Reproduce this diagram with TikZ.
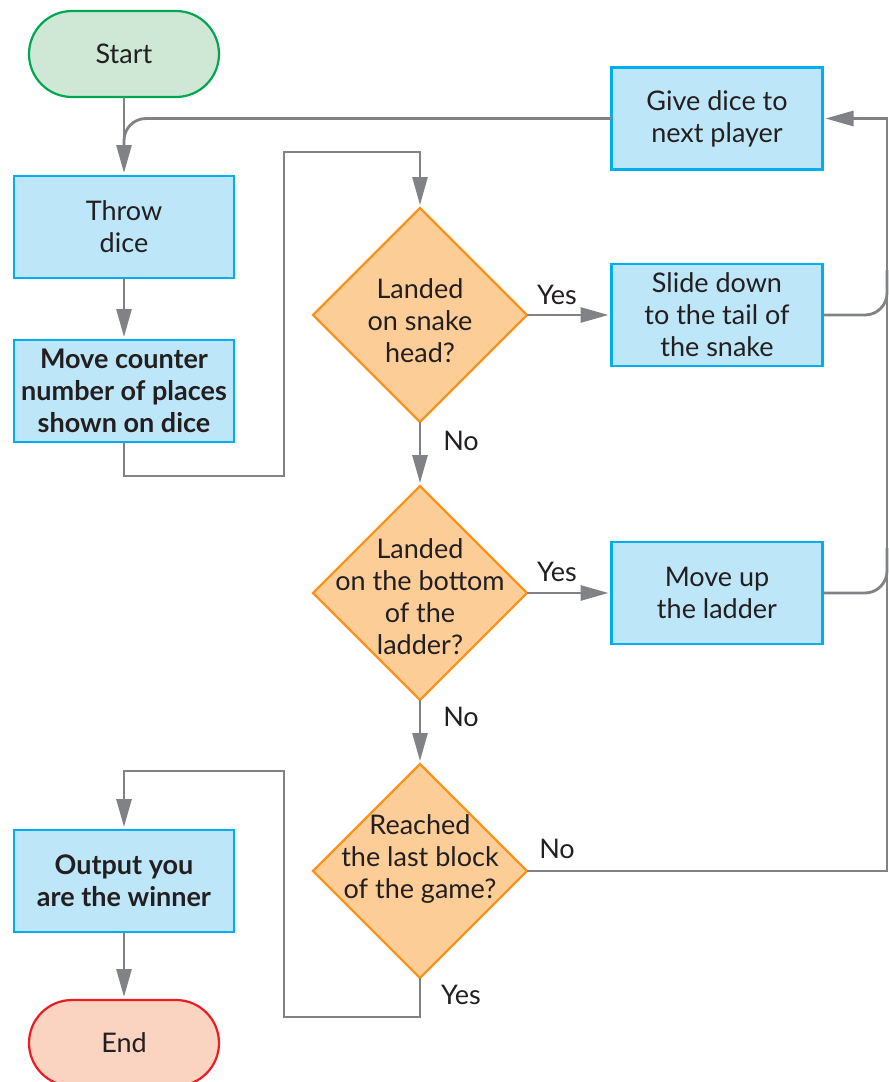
\documentclass[tikz,border=0pt]{standalone}
\usepackage{fontspec}
\setmainfont{Lato}
\usetikzlibrary{shapes.geometric,arrows.meta}

\definecolor{ink}{HTML}{231F20}
\definecolor{boxfill}{HTML}{BDE6F9}
\definecolor{boxline}{HTML}{00AEEF}
\definecolor{decfill}{HTML}{FDCD98}
\definecolor{decline}{HTML}{F7941D}
\definecolor{startfill}{HTML}{CFE8D5}
\definecolor{startline}{HTML}{00A651}
\definecolor{endfill}{HTML}{FAD3C1}
\definecolor{endline}{HTML}{ED1C24}
\definecolor{linegray}{HTML}{808285}

\tikzset{
  process/.style={rectangle, draw=boxline, fill=boxfill, line width=2.2pt,
    minimum width=220pt, minimum height=102pt, inner sep=0pt, outer sep=0pt,
    align=center, text=ink},
  sideproc/.style={process, minimum width=211pt},
  decision/.style={diamond, draw=decline, fill=decfill, line width=2.2pt,
    minimum width=214pt, minimum height=214pt, inner sep=0pt, outer sep=0pt},
  dectext/.style={align=center, inner sep=0pt, text=ink},
  terminal/.style={rectangle, rounded corners=43pt, line width=2.2pt,
    minimum width=190pt, minimum height=86pt, inner sep=0pt, outer sep=0pt,
    text=ink},
  flow/.style={draw=linegray, line width=2.8pt},
  arrow/.style={flow, -{Triangle[length=28pt,width=15pt]}, shorten >=3pt},
  tag/.style={inner sep=0pt, text=ink},
}

\begin{document}
\begin{tikzpicture}[x=1pt, y=-1pt, font=\fontsize{27}{32}\selectfont]
\useasboundingbox (0,0) rectangle (889,1082);

% left column
\node[terminal, draw=startline, fill=startfill] (start) at (124,54) {Start};
\node[process] (throw) at (124,227) {Throw\\dice};
\node[process, font=\fontsize{27}{32}\selectfont\bfseries] (move) at (124,391)
  {Move counter\\number of places\\shown on dice};
\node[process, font=\fontsize{27}{32}\selectfont\bfseries] (out) at (124,881)
  {Output you\\are the winner};
\node[terminal, draw=endline, fill=endfill] (end) at (124,1043) {End};

% decisions
\node[decision] (d1) at (420,315) {};
\node[dectext] (d1t) at ([yshift=-6pt]d1.center) {Landed\\on snake\\head?};
\node[decision] (d2) at (420,593) {};
\node[dectext] (d2t) at ([yshift=-4pt]d2.center) {Landed\\on the bottom\\of the\\ladder?};
\node[decision] (d3) at (420,871) {};
\node[dectext] (d3t) at ([yshift=12pt]d3.center) {Reached\\the last block\\of the game?};

% right column
\node[sideproc] (give) at (717,118.5) {Give dice to\\next player};
\node[sideproc] (slide) at (717,315) {Slide down\\to the tail of\\the snake};
\node[sideproc] (up) at (717,593) {Move up\\the ladder};

% routing points
\coordinate (trunk) at (887,0);
\coordinate (m1) at (284,476);
\coordinate (m2) at (284,152);
\coordinate (s1) at (887,270);
\coordinate (u1) at (887,548);
\coordinate (w1) at (284,1017);
\coordinate (w2) at (284,771);

% connectors
\draw[arrow] (start) -- (throw);
\draw[flow, rounded corners=22pt, shorten >=20pt] (give.west) -| (throw.north);
\draw[arrow] (throw) -- (move);
\draw[arrow] (move.south) |- (m1) -- (m2) -| (d1.north);

\draw[arrow] (d1.east) -- (slide.west);
\node[tag] (y1) at (557,295) {Yes};
\draw[arrow] (d1.south) -- (d2.north);
\node[tag] (n1) at (461,441) {No};

\draw[arrow] (d2.east) -- (up.west);
\node[tag] (y2) at (557,572) {Yes};
\draw[arrow] (d2.south) -- (d3.north);
\node[tag] (n2) at (461,717) {No};

\draw[arrow] (d3.east) -| (trunk |- give.east) -- (give.east);
\node[tag] (n3) at (557,849) {No};
\draw[flow, rounded corners=22pt] (slide.east) -| (s1);
\draw[flow, rounded corners=22pt] (up.east) -| (u1);

\draw[arrow] (d3.south) |- (w1) -- (w2) -| (out.north);
\node[tag] (y3) at (461,995) {Yes};
\draw[arrow] (out) -- (end);
\end{tikzpicture}
\end{document}
